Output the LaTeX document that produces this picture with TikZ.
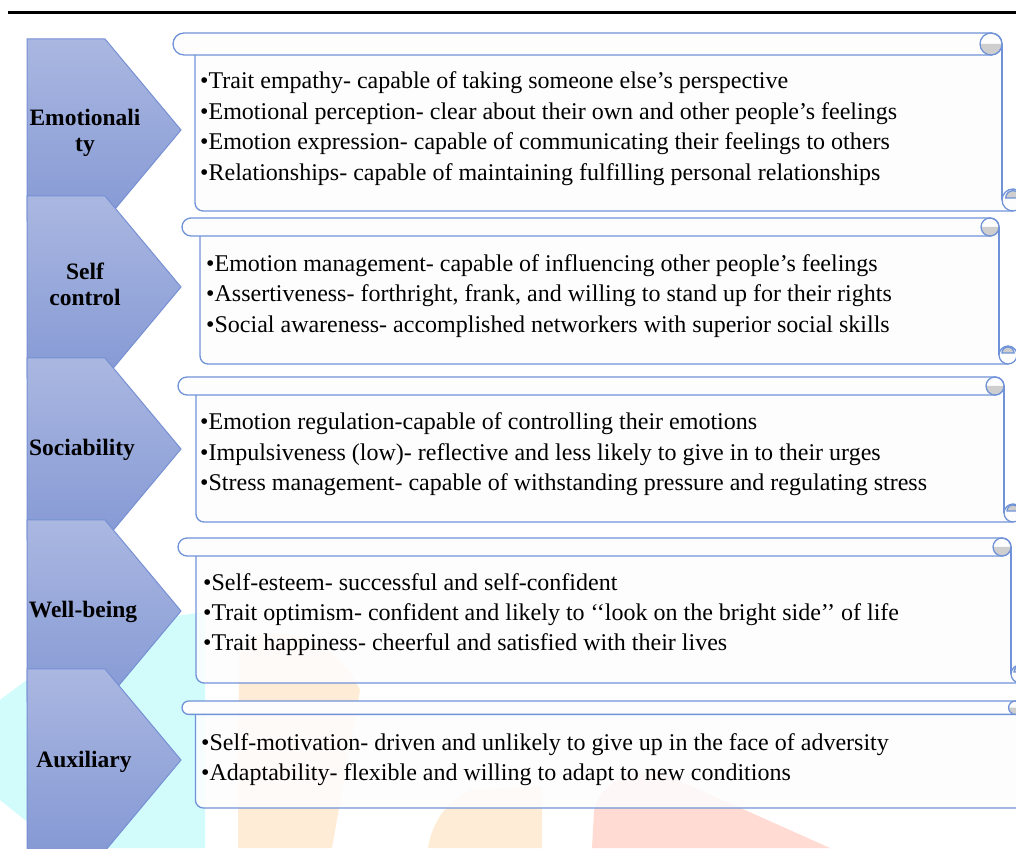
\documentclass[tikz,border=0pt]{standalone}
\usepackage{fontspec}
\setmainfont{Liberation Serif}

\definecolor{chevtop}{RGB}{170,183,225}
\definecolor{chevbot}{RGB}{133,153,212}
\definecolor{chevline}{RGB}{118,144,212}
\definecolor{scrollblue}{RGB}{112,146,216}
\definecolor{paper}{RGB}{253,253,253}
\definecolor{curlgrey}{RGB}{206,206,206}
\definecolor{wmcyan}{RGB}{210,251,251}
\definecolor{wmpeach}{RGB}{255,236,214}
\definecolor{wmpink}{RGB}{255,219,211}

% Right-pointing pentagon; #1 = top edge measured from the top of the page
\newcommand\chevronshape[1]{%
  \path[chev] (27,{848-#1}) -- (105,{848-#1}) -- (181,{848-#1-91})
    -- (105,{848-#1-182}) -- (27,{848-#1-182}) -- cycle;}

% Horizontal scroll: #1 left of roll, #2 top, #3 right edge of sheet,
% #4 bottom, #5 roll thickness (all measured from the top-left corner)
\newcommand\scrollbox[5]{%
  \pgfmathsetmacro\sL{#1}\pgfmathsetmacro\sT{848-#2}%
  \pgfmathsetmacro\sR{#3}\pgfmathsetmacro\sB{848-#4}%
  \pgfmathsetmacro\sS{#5}\pgfmathsetmacro\sH{#5/2}\pgfmathsetmacro\sQ{#5/3}%
  % sheet
  \path[fill=paper, fill opacity=.88] ({\sL+\sS},{\sT-\sS}) -- ({\sL+\sS},{\sB+8})
    arc[start angle=180, end angle=270, radius=8pt] -- (\sR,\sB) -- (\sR,{\sT-\sS}) -- cycle;
  \draw[sline] ({\sL+\sS},{\sT-\sS}) -- ({\sL+\sS},{\sB+8})
    arc[start angle=180, end angle=270, radius=8pt] -- ({\sR+\sH},\sB);
  \draw[sline] (\sR,{\sT-\sH}) -- (\sR,{\sB+\sH});
  % bottom curl
  \draw[sline, fill=paper] ({\sR+\sH},{\sB+\sH}) circle[radius=\sH pt];
  \draw[sline, fill=curlgrey] ({\sR+\sH-\sQ},{\sB+\sH+2}) arc[start angle=180, end angle=0, radius=\sQ pt] -- cycle;
  % top roll
  \draw[sline, fill=paper, rounded corners=\sH pt] (\sL,\sT) rectangle (\sR,{\sT-\sS});
  \fill[curlgrey] ({\sR-\sS},{\sT-\sH}) arc[start angle=180, end angle=360, radius=\sH pt] -- cycle;
  \draw[sline] ({\sR-\sH},{\sT-\sH}) circle[radius=\sH pt];
}

\begin{document}
\begin{tikzpicture}[x=1pt, y=1pt,
  chev/.style={top color=chevtop, bottom color=chevbot, draw=chevline, line width=1pt},
  sline/.style={draw=scrollblue, line width=1.3pt},
  item/.style={anchor=base west, inner sep=0pt, font=\fontsize{24}{29}\selectfont},
  lab/.style={anchor=base, inner sep=0pt, align=center, font=\fontsize{23.5}{26}\selectfont\bfseries}]

\useasboundingbox (0,0) rectangle (1016,848);
\clip (0,0) rectangle (1016,848);

% faint background emblem
\fill[wmcyan] (0,148) -- (60,193) -- (110,223) -- (205,236) -- (205,0) -- (60,0) -- (0,48) -- cycle;
\fill[wmpeach] (238,0) -- (239,200) .. controls (255,225) and (330,222) .. (360,158) -- (332,0) -- cycle;
\fill[wmpeach] (428,0) .. controls (432,25) and (445,45) .. (470,58) -- (542,62) -- (542,0) -- cycle;
\fill[wmpink] (592,0) -- (594,36) .. controls (598,63) and (625,78) .. (660,76) -- (830,0) -- cycle;

% rule across the top
\draw[line width=3.2pt] (8,835.3) -- (1016,835.3);

% category pentagons
\chevronshape{39}
\chevronshape{196}
\chevronshape{358}
\chevronshape{520}
\chevronshape{669}

\node[lab] (cat1) at (85,{848-152}) {Emotionali\\ty};
\node[lab] (cat2) at (85,{848-306}) {Self\\control};
\node[lab] (cat3) at (82,{848-456}) {Sociability};
\node[lab] (cat4) at (83,{848-618}) {Well-being};
\node[lab] (cat5) at (84,{848-767}) {Auxiliary};

% scrolls
\scrollbox{173}{33}{1002}{211}{22}
\scrollbox{182}{218}{999}{364}{18}
\scrollbox{178}{377}{1004}{522}{18}
\scrollbox{178}{538}{1011}{683}{18}
\scrollbox{182}{701}{1022}{808}{13.4}

\node[item] (e1) at (200,{848-89}) {•Trait empathy- capable of taking someone else’s perspective};
\node[item] (e2) at (200,{848-119.5}) {•Emotional perception- clear about their own and other people’s feelings};
\node[item] (e3) at (200,{848-150}) {•Emotion expression- capable of communicating their feelings to others};
\node[item] (e4) at (200,{848-180.5}) {•Relationships- capable of maintaining fulfilling personal relationships};

\node[item] (s1) at (206,{848-272}) {•Emotion management- capable of influencing other people’s feelings};
\node[item] (s2) at (206,{848-302}) {•Assertiveness- forthright, frank, and willing to stand up for their rights};
\node[item] (s3) at (206,{848-332.5}) {•Social awareness- accomplished networkers with superior social skills};

\node[item] (o1) at (200,{848-430}) {•Emotion regulation-capable of controlling their emotions};
\node[item] (o2) at (200,{848-460.5}) {•Impulsiveness (low)- reflective and less likely to give in to their urges};
\node[item] (o3) at (200,{848-491}) {•Stress management- capable of withstanding pressure and regulating stress};

\node[item] (w1) at (203,{848-590.5}) {•Self-esteem- successful and self-confident};
\node[item] (w2) at (203,{848-621}) {•Trait optimism- confident and likely to ‘‘look on the bright side’’ of life};
\node[item] (w3) at (203,{848-651}) {•Trait happiness- cheerful and satisfied with their lives};

\node[item] (a1) at (201,{848-750}) {•Self-motivation- driven and unlikely to give up in the face of adversity};
\node[item] (a2) at (201,{848-780.5}) {•Adaptability- flexible and willing to adapt to new conditions};
\end{tikzpicture}
\end{document}
